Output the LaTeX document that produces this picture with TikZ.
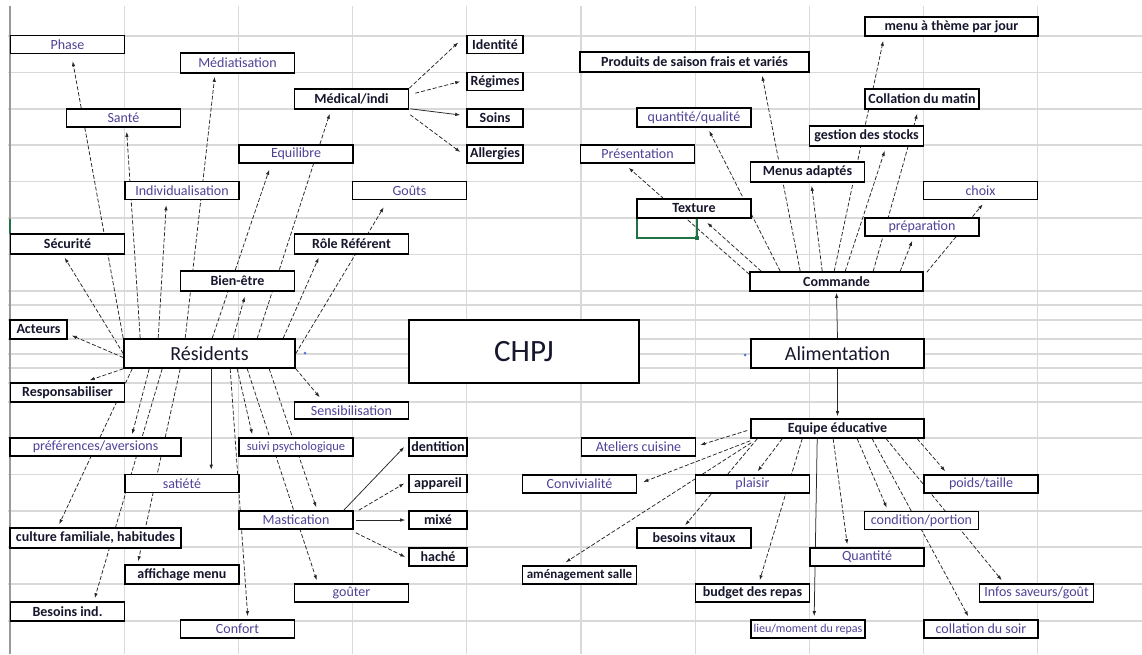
\documentclass[tikz,border=0pt]{standalone}
\usepackage{fontspec}
\setmainfont{Carlito}
\usetikzlibrary{arrows.meta}
\pgfdeclarelayer{back}
\pgfsetlayers{back,main}
\definecolor{gridgray}{RGB}{217,217,217}
\definecolor{darktext}{RGB}{22,22,45}
\definecolor{lighttext}{RGB}{78,66,150}
\definecolor{cellgreen}{RGB}{33,115,70}
\definecolor{dotblue}{RGB}{80,120,210}
\tikzset{
  cell/.style={draw, line width=1.6pt, fill=white, inner sep=1pt, minimum width=114pt, minimum height=18pt, font=\fontsize{14}{16}\selectfont, text=lighttext},
  dark/.style={text=darktext, font=\fontsize{14}{16}\selectfont\bfseries},
  link/.style={draw=black!85, line width=0.75pt, dash pattern=on 4pt off 2pt, -{Latex[length=5pt,width=3.5pt]}},
  plainlink/.style={link, solid}
}
\begin{document}
\begin{tikzpicture}[x=1pt,y=-1pt]
  \useasboundingbox (0,0) rectangle (1142,654);
  \begin{pgfonlayer}{back}
    \fill[white] (0,0) rectangle (1142,654);
    \foreach \gx in {10,124.2,...,1038} \draw[gridgray, line width=1.3pt] (\gx,6) -- (\gx,654);
    \foreach \gy in {36,72.5,109,145,181.5,218,254.5,291,305,320,339,354,368,383,402,438,474.5,511,547,584,621}
      \draw[gridgray, line width=1.3pt] (8,\gy) -- (1142,\gy);
    \draw[black!40, line width=1.3pt] (10,6) -- (10,654);
    \draw[cellgreen, line width=1.5pt] (10,219) -- (10,234);
  \end{pgfonlayer}

  \node[cell] (phase) at (67.5,44.5) {Phase};
  \node[cell, minimum height=20pt] (media) at (237.5,63) {Médiatisation};
  \node[cell, dark, minimum height=20pt] (medic) at (351.5,99) {Médical/indi};
  \node[cell, dark, minimum width=56pt] (m1) at (495,44.5) {Identité};
  \node[cell, dark, minimum width=56pt] (m2) at (495,81.5) {Régimes};
  \node[cell, dark, minimum width=56pt] (m3) at (495,118) {Soins};
  \node[cell, dark, minimum width=56pt] (m4) at (495,154) {Allergies};
  \node[cell] (sante) at (123.5,118) {Santé};
  \node[cell] (equil) at (296,154) {Equilibre};
  \node[cell] (indiv) at (182,190.5) {Individualisation};
  \node[cell] (gouts) at (409.5,190.5) {Goûts};
  \node[cell, dark, minimum height=20pt] (secu) at (67.5,244) {Sécurité};
  \node[cell, dark, minimum height=20pt] (role) at (351.5,244) {Rôle Référent};
  \node[cell, dark, minimum height=20pt] (bien) at (237.5,281) {Bien-être};
  \node[cell, dark, minimum width=57pt, minimum height=19pt] (acteurs) at (38.5,329.5) {Acteurs};
  \node[cell, dark, minimum width=171pt, minimum height=29pt, font=\fontsize{20}{22}\selectfont] (res) at (209.5,353.5) {Résidents};
  \node[cell, dark, line width=2.2pt, minimum width=230pt, minimum height=63pt, font=\fontsize{31}{34}\selectfont] (chpj) at (524,351.5) {CHPJ};
  \node[cell, dark, minimum height=19pt] (resp) at (67.5,392.5) {Responsabiliser};
  \node[cell, minimum height=17pt] (sensi) at (351.5,410.5) {Sensibilisation};
  \node[cell, minimum width=171pt] (pref) at (95.5,447) {préférences/aversions};
  \node[cell] (satiete) at (182,483.5) {satiété};
  \node[cell, dark, minimum width=171pt, minimum height=20pt] (culture) at (95.5,538) {culture familiale, habitudes};
  \node[cell, dark, minimum height=19pt] (affich) at (182,574.5) {affichage menu};
  \node[cell, dark, minimum height=19pt] (besoins) at (67.5,611.5) {Besoins ind.};
  \node[cell] (confort) at (237.5,629) {Confort};
  \node[cell, font=\fontsize{12.5}{14}\selectfont] (suivi) at (296,447) {suivi psychologique};
  \node[cell] (mast) at (296,520) {Mastication};
  \node[cell] (gouter) at (351.5,593) {goûter};
  \node[cell, dark, minimum width=58pt] (x1) at (438,447) {dentition};
  \node[cell, dark, minimum width=58pt] (x2) at (438,483.5) {appareil};
  \node[cell, dark, minimum width=58pt] (x3) at (438,520) {mixé};
  \node[cell, dark, minimum width=58pt] (x4) at (438,557) {haché};

  \node[cell, dark, minimum width=173pt, minimum height=19pt] (theme) at (951.5,26.5) {menu à thème par jour};
  \node[cell, dark, minimum width=229pt, minimum height=20pt] (produits) at (694.5,62) {Produits de saison frais et variés};
  \node[cell, dark, minimum height=20pt] (collation) at (922,99) {Collation du matin};
  \node[cell, minimum height=19pt] (qualite) at (694,117.5) {quantité/qualité};
  \node[cell, dark, minimum height=20pt] (stocks) at (866.5,136) {gestion des stocks};
  \node[cell] (present) at (637.5,154) {Présentation};
  \node[cell, dark, minimum height=20pt] (menus) at (807.5,172) {Menus adaptés};
  \node[cell] (choix) at (980.5,190.5) {choix};
  \node[cell, dark, minimum height=19pt] (texture) at (694,208.5) {Texture};
  \node[cell] (prepa) at (922,227) {préparation};
  \node[cell, dark, minimum width=173pt, minimum height=19pt] (commande) at (836.5,281.5) {Commande};
  \node[cell, dark, minimum width=173pt, minimum height=29pt, font=\fontsize{20}{22}\selectfont] (alim) at (837.5,353.5) {Alimentation};
  \node[cell, dark, minimum width=173pt, minimum height=19pt] (equipe) at (837.5,428.5) {Equipe éducative};
  \node[cell] (atelier) at (638.5,447) {Ateliers cuisine};
  \node[cell] (convi) at (579.5,484) {Convivialité};
  \node[cell] (plaisir) at (752.5,484) {plaisir};
  \node[cell] (poids) at (981,484) {poids/taille};
  \node[cell] (vaiss) at (921.5,520.5) {condition/portion};
  \node[cell, dark, minimum height=20pt] (vitaux) at (694,538) {besoins vitaux};
  \node[cell] (quant) at (867,557) {Quantité};
  \node[cell, dark, font=\fontsize{13}{15}\selectfont\bfseries] (amenag) at (579.5,575) {aménagement salle};
  \node[cell, dark] (budget) at (752.5,593) {budget des repas};
  \node[cell] (infos) at (1036.5,593) {Infos saveurs/goût};
  \node[cell, font=\fontsize{12}{14}\selectfont] (moment) at (808,629) {lieu/moment du repas};
  \node[cell] (soir) at (981,629) {collation du soir};

  \begin{pgfonlayer}{back}
    \draw[link] (res.north west) -- ([xshift=63pt,yshift=-7pt]phase.south west);
    \draw[link] (res.west) -- ([xshift=55pt,yshift=-3pt]secu.south west);
    \draw[link] ([xshift=17pt]res.north west) -- ([xshift=61pt,yshift=-4pt]sante.south west);
    \draw[link] ([xshift=62pt]res.north west) -- ([xshift=35pt,yshift=-3pt]media.south west);
    \draw[link] ([xshift=35pt]res.north west) -- ([xshift=42pt,yshift=-5pt]indiv.south west);
    \draw[link] ([xshift=89pt]res.north west) -- ([xshift=31pt,yshift=-6pt]equil.south west);
    \draw[link] ([xshift=134pt]res.north west) -- ([xshift=36pt,yshift=-4pt]medic.south west);
    \draw[link] ([xshift=110pt]res.north west) -- ([xshift=65pt,yshift=-5pt]bien.south west);
    \draw[link] (res.east) -- ([xshift=32pt,yshift=-7pt]gouts.south west);
    \draw[link] ([xshift=160pt]res.north west) -- ([xshift=25pt,yshift=-3pt]role.south west);
    \draw[link] ([yshift=-4pt]res.west) -- ([xshift=4pt,yshift=-6pt]acteurs.east);
    \draw[link] (res.south west) -- ([xshift=80pt,yshift=2pt]resp.north west);
    \draw[link] (res.south east) -- ([xshift=26pt,yshift=4pt]sensi.north west);
    \draw[link] ([xshift=9pt]res.south west) -- ([xshift=50pt,yshift=3pt]culture.north west);
    \draw[link] ([xshift=26pt]res.south west) -- ([xshift=123pt,yshift=3pt]pref.north west);
    \draw[link] ([xshift=39pt]res.south west) -- ([xshift=85pt,yshift=3pt]besoins.north west);
    \draw[link] ([xshift=57pt]res.south west) -- ([xshift=14pt,yshift=3pt]affich.north west);
    \draw[plainlink] ([xshift=88pt]res.south west) -- ([xshift=87pt,yshift=4pt]satiete.north west);
    \draw[link] ([xshift=107pt]res.south west) -- ([xshift=68pt,yshift=3pt]confort.north west);
    \draw[link] ([xshift=114pt]res.south west) -- ([xshift=14pt,yshift=3pt]suivi.north west);
    \draw[link] ([xshift=124pt]res.south west) -- ([xshift=23pt,yshift=3pt]gouter.north west);
    \draw[link] ([xshift=146pt]res.south west) -- ([xshift=78pt,yshift=3pt]mast.north west);

    \draw[link] (medic.north east) -- ([xshift=-8pt,yshift=2pt]m1.west);
    \draw[link] ([xshift=6pt,yshift=-5pt]medic.north east) -- ([xshift=-6pt]m2.west);
    \draw[plainlink] ([xshift=1pt,yshift=1pt]medic.south east) -- ([xshift=-6pt,yshift=3pt]m3.west);
    \draw[link] ([xshift=1pt,yshift=-5pt]medic.south east) -- ([xshift=-6pt,yshift=2pt]m4.west);

    \draw[plainlink] ([xshift=-10pt]mast.north east) -- ([xshift=-4pt]x1.west);
    \draw[link] ([xshift=5pt]mast.north east) -- ([xshift=-4pt]x2.west);
    \draw[plainlink] ([xshift=2pt]mast.east) -- ([xshift=-3pt]x3.west);
    \draw[link] ([xshift=2pt,yshift=-3pt]mast.south east) -- ([xshift=-3pt]x4.west);

    \draw[plainlink] (alim.north) -- ([yshift=-1pt]commande.south);
    \draw[plainlink] (alim.south) -- ([yshift=2pt]equipe.north);

    \draw[link] ([yshift=-3pt]commande.north west) -- ([xshift=49pt,yshift=-4pt]present.south west);
    \draw[link] ([xshift=12pt]commande.north west) -- ([xshift=71pt,yshift=-4pt]texture.south west);
    \draw[link] ([xshift=31pt]commande.north west) -- ([xshift=73pt,yshift=-3pt]qualite.south west);
    \draw[link] ([xshift=51pt]commande.north west) -- ([xshift=183pt,yshift=-3pt]produits.south west);
    \draw[link] ([xshift=73pt]commande.north west) -- ([xshift=62pt,yshift=-3pt]menus.south west);
    \draw[link] ([xshift=85pt]commande.north west) -- ([xshift=19pt,yshift=-4pt]theme.south west);
    \draw[link] ([xshift=96pt]commande.north west) -- ([xshift=76pt,yshift=-4pt]stocks.south west);
    \draw[link] ([xshift=124pt]commande.north west) -- ([xshift=53pt,yshift=-4pt]collation.south west);
    \draw[link] ([xshift=151pt]commande.north west) -- ([xshift=48pt,yshift=-4pt]prepa.south west);
    \draw[link] ([xshift=3pt,yshift=-1pt]commande.north east) -- ([xshift=60pt,yshift=-4pt]choix.south west);

    \draw[link] ([xshift=-3pt,yshift=-2pt]equipe.west) -- ([xshift=4pt,yshift=2pt]atelier.east);
    \draw[link] ([yshift=-2pt]equipe.south west) -- ([xshift=6pt,yshift=2pt]convi.east);
    \draw[link] ([xshift=1pt,yshift=-4pt]equipe.south west) -- ([xshift=44pt,yshift=3pt]amenag.north west);
    \draw[link] ([xshift=7pt]equipe.south west) -- ([xshift=49pt,yshift=2pt]vitaux.north west);
    \draw[link] ([xshift=32pt]equipe.south west) -- ([xshift=63pt,yshift=3pt]plaisir.north west);
    \draw[link] ([xshift=52pt]equipe.south west) -- ([xshift=65pt,yshift=3pt]budget.north west);
    \draw[plainlink] ([xshift=67pt]equipe.south west) -- ([xshift=64pt,yshift=3pt]moment.north west);
    \draw[link] ([xshift=83pt]equipe.south west) -- ([xshift=38pt,yshift=3pt]quant.north west);
    \draw[link] ([xshift=107pt]equipe.south west) -- ([xshift=23pt,yshift=3pt]vaiss.north west);
    \draw[link] ([xshift=122pt]equipe.south west) -- ([xshift=45pt,yshift=3pt]soir.north west);
    \draw[link] ([xshift=136pt]equipe.south west) -- ([xshift=23pt,yshift=3pt]infos.north west);
    \draw[link] ([xshift=167pt]equipe.south west) -- ([xshift=22pt,yshift=3pt]poids.north west);

    \draw[cellgreen, line width=1.3pt] (637,218) rectangle (697,238);
    \fill[cellgreen] (695,236) rectangle (699,240);
  \end{pgfonlayer}

  \fill[dotblue] (305,353) circle (1.5pt);
  \fill[dotblue] (745,355) circle (1.5pt);
\end{tikzpicture}
\end{document}
